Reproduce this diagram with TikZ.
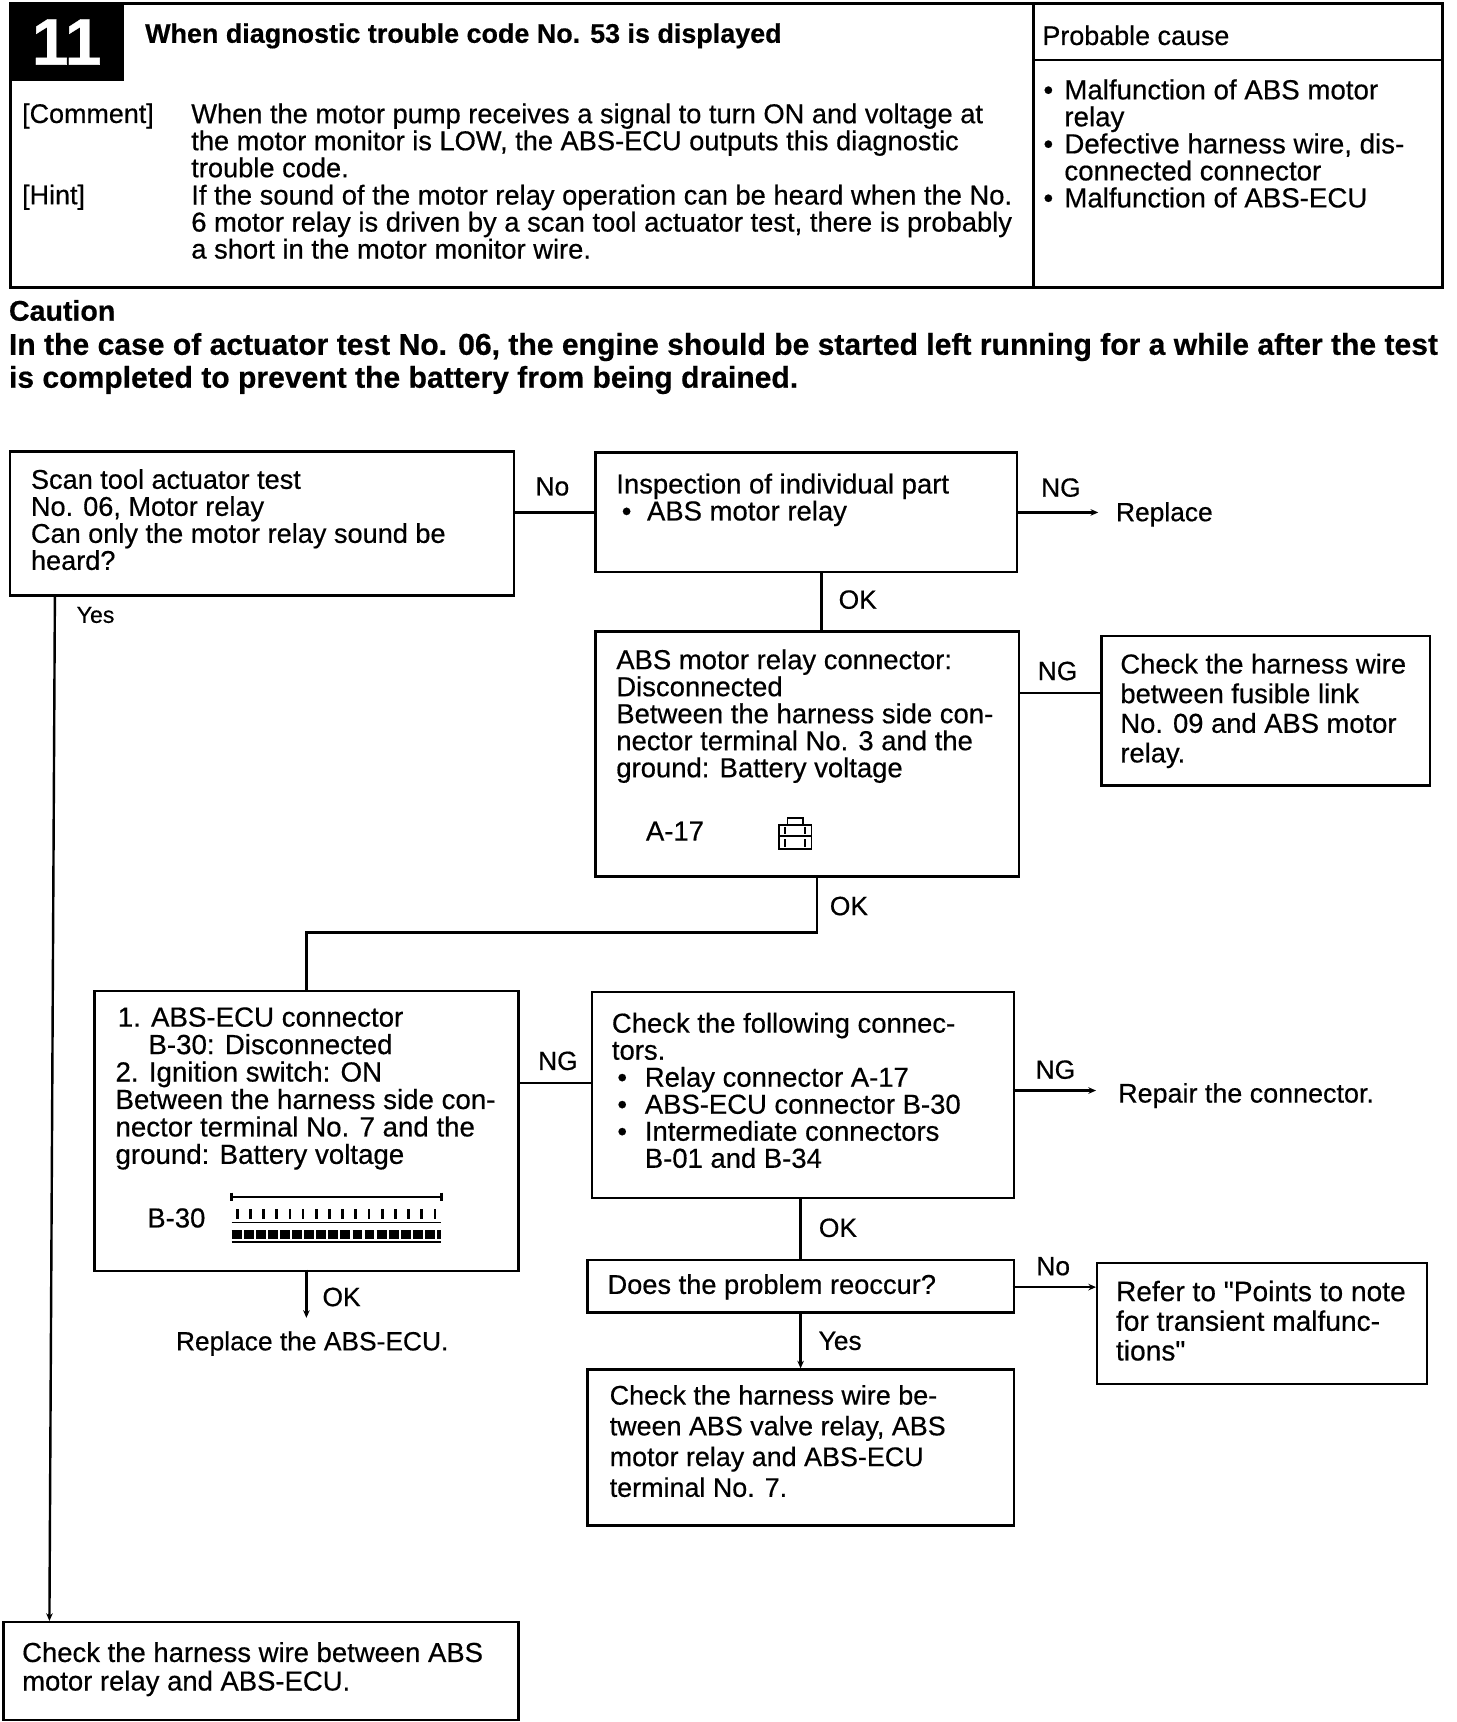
\documentclass[tikz,border=0pt]{standalone}
\usepackage{fontspec}
\setmainfont[FakeBold=0.5]{Liberation Sans}
\newfontfamily\plainf[FakeBold=0.5]{Liberation Sans}
\usetikzlibrary{arrows.meta,calc}
\newcommand{\fs}[2]{\fontsize{#1}{#2}\selectfont}
\tikzset{
  x=1pt,y=-1pt,
  boxn/.style={draw=black,line width=2.2pt,fill=white,inner sep=0pt,anchor=north west},
  txt/.style={anchor=north west,inner sep=0pt,align=left,font=\fs{25}{24.6}},
  lab/.style={inner sep=0pt,font=\fs{24}{24}},
  conn/.style={draw=black,line width=2.2pt},
  tipped/.style={conn,-{Stealth[length=7pt,width=6pt]}},
}
\newcommand{\flowbox}[5]{\node[boxn,minimum width={#4-#2},minimum height={#5-#3}] (#1) at (#2,#3) {};}
\newcommand{\bul}[1]{\makebox[#1pt][l]{•}}
\begin{document}
\begin{tikzpicture}
\useasboundingbox (0,0) rectangle (1326,1568);
% header
\node[draw=black,line width=3pt,anchor=north west,inner sep=0pt,minimum width=1304pt,minimum height=258pt] (head) at (8,2) {};
\node[fill=black,anchor=north west,inner sep=0pt,minimum width=105pt,minimum height=72pt,text=white,font=\bfseries\fs{60}{60}] (num) at (8,2) {11};
\coordinate (divt) at (941,2);
\coordinate (divb) at (941,260);
\draw[line width=2pt] (divt) -- (divb);
\coordinate (divm) at (941,55);
\draw[line width=2pt] (divm) -- (divm -| head.east);
\node[txt,font=\bfseries\fs{24.5}{24}] (title) at (132,21) {When diagnostic trouble code No. 53 is displayed};
\node[txt,font=\fs{24.5}{24}] (pc) at (949,23) {Probable cause};
\node[txt,font=\fs{25.2}{24.6}] (causes) at (950,72) {\bul{19}Malfunction of ABS motor\\\hspace*{19pt}relay\\\bul{19}Defective harness wire, dis-\\\hspace*{19pt}connected connector\\\bul{19}Malfunction of ABS-ECU};
\node[txt,font=\fs{24.5}{24.6}] (comh) at (20,94) {[Comment]};
\node[txt,font=\fs{24.8}{24.6}] (com) at (174,94) {When the motor pump receives a signal to turn ON and voltage at\\the motor monitor is LOW, the ABS-ECU outputs this diagnostic\\trouble code.};
\node[txt,font=\fs{24.5}{24.6}] (hinth) at (20,168) {[Hint]};
\node[txt,font=\fs{24.9}{24.6}] (hint) at (174,168) {If the sound of the motor relay operation can be heard when the No.\\6 motor relay is driven by a scan tool actuator test, there is probably\\a short in the motor monitor wire.};
\node[txt,font=\bfseries\fs{26}{26}] (caut) at (8,273) {Caution};
\node[txt,font=\bfseries\fs{27.4}{30}] (cautt) at (8,303) {In the case of actuator test No. 06, the engine should be started left running for a while after the test\\is completed to prevent the battery from being drained.};
% boxes
\flowbox{scan}{8}{410}{467}{541}
\flowbox{insp}{541}{411}{925}{520}
\flowbox{relay}{541}{574}{927}{797}
\flowbox{harna}{1002}{578}{1301}{714}
\flowbox{ecu}{85}{901}{471}{1156}
\flowbox{chk}{538}{902}{922}{1090}
\flowbox{prob}{534}{1146}{922}{1194}
\flowbox{harnb}{534}{1246}{922}{1388}
\flowbox{refer}{998}{1149}{1298}{1259}
\flowbox{final}{2}{1476}{471}{1565}
% box texts
\node[txt,font=\fs{24.7}{24.6}] (scant) at (28,427) {Scan tool actuator test\\No. 06, Motor relay\\Can only the motor relay sound be\\heard?};
\node[txt] (inspt) at (561,431) {Inspection of individual part\\\hspace*{5pt}\bul{23}ABS motor relay};
\node[txt] (relayt) at (561,591) {ABS motor relay connector:\\Disconnected\\Between the harness side con-\\nector terminal No. 3 and the\\ground: Battery voltage};
\node[txt] (aseven) at (588,748) {A-17};
\node[txt,font=\fs{24.9}{27}] (harnat) at (1020,595) {Check the harness wire\\between fusible link\\No. 09 and ABS motor\\relay.};
\node[txt,font=\fs{25.2}{25}] (ecut) at (105,917) {\hspace*{2pt}1. ABS-ECU connector\\\hspace*{30pt}B-30: Disconnected\\2. Ignition switch: ON\\Between the harness side con-\\nector terminal No. 7 and the\\ground: Battery voltage};
\node[txt] (bthirty) at (134,1100) {B-30};
\node[txt] (chkt) at (557,922) {Check the following connec-\\tors.\\\hspace*{5pt}\bul{25}Relay connector A-17\\\hspace*{5pt}\bul{25}ABS-ECU connector B-30\\\hspace*{5pt}\bul{25}Intermediate connectors\\\hspace*{30pt}B-01 and B-34};
\node[txt,font=\fs{24.8}{24.6}] (probt) at (553,1160) {Does the problem reoccur?};
\node[txt,font=\fs{24.5}{28}] (harnbt) at (555,1261) {Check the harness wire be-\\tween ABS valve relay, ABS\\motor relay and ABS-ECU\\terminal No. 7.};
\node[txt,font=\fs{25.6}{27}] (refert) at (1016,1166) {Refer to {\plainf"}Points to note\\for transient malfunc-\\tions{\plainf"}};
\node[txt,font=\fs{25}{26}] (finalt) at (20,1495) {Check the harness wire between ABS\\motor relay and ABS-ECU.};
% free texts
\node[txt,font=\fs{24}{24}] (replace) at (1016,457) {Replace};
\node[txt,font=\fs{24.5}{24}] (repair) at (1018,986) {Repair the connector.};
\node[txt,font=\fs{24}{24}] (replecu) at (160,1212) {Replace the ABS-ECU.};
% connectors
\draw[conn] (scan.east |- insp.west) -- (insp.west);
\draw[tipped] (insp.east) -- (insp.east -| 1000,0);
\draw[conn] (748,520) coordinate (ia) -- (748,574) coordinate (ib);
\draw[conn] (relay.east |- 0,631) -- (harna.west |- 0,631);
\coordinate (ra) at (744,797);
\coordinate (rb) at (744,849);
\coordinate (rc) at (279,849);
\coordinate (rd) at (279,901);
\draw[conn] (ra) -- (rb) -- (rc) -- (rd);
\draw[conn] (ecu.east |- 0,986) -- (chk.west |- 0,986);
\coordinate (chkr) at (922,993);
\coordinate (repl) at (998,993);
\draw[tipped] (chkr) -- (repl);
\draw[conn] (729,1090) coordinate (ca) -- (729,1146) coordinate (cb);
\coordinate (pra) at (922,1172);
\coordinate (prb) at (998,1172);
\draw[tipped] (pra) -- (prb);
\coordinate (pda) at (729,1194);
\coordinate (pdb) at (729,1246);
\draw[tipped] (pda) -- (pdb);
\coordinate (ea) at (279,1156);
\coordinate (eb) at (279,1200);
\draw[tipped] (ea) -- (eb);
\coordinate (sa) at (50,541);
\coordinate (sb) at (45,1476);
\draw[tipped] (sa) -- (sb);
% labels
\node[lab] (l1) at (503,443) {No};
\node[lab] (l2) at (966,444) {NG};
\node[lab] (l3) at (781,546) {OK};
\node[lab] (l4) at (963,611) {NG};
\node[lab] (l5) at (773,825) {OK};
\node[lab,font=\fs{21}{21}] (l6) at (87,560) {Yes};
\node[lab] (l7) at (508,966) {NG};
\node[lab] (l8) at (961,974) {NG};
\node[lab] (l9) at (763,1118) {OK};
\node[lab] (l10) at (959,1153) {No};
\node[lab] (l11) at (311,1181) {OK};
\node[lab] (l12) at (765,1221) {Yes};
% connector icon A-17
\draw[line width=1.6pt] (709,751) -- (739,751) -- (739,773) -- (709,773) -- cycle;
\draw[line width=1.6pt] (717,751) -- (717,745) -- (731,745) -- (731,751);
\draw[line width=2pt] (709,761) -- (739,761);
\foreach \i in {715,733}{\draw[line width=2pt] (\i,753) -- (\i,759); \draw[line width=2pt] (\i,764) -- (\i,771);}
% connector icon B-30
\draw[line width=2pt] (211,1090) -- (402,1090);
\draw[line width=2.4pt] (211,1086) -- (211,1094);
\draw[line width=2.4pt] (402,1086) -- (402,1094);
\draw[line width=1.5pt] (211,1113) -- (402,1113);
\foreach \i in {0,...,15}{\draw[line width=2.5pt] ({216+\i*12},1101) -- ({216+\i*12},1110);}
\draw[line width=8pt,dash pattern=on 9pt off 2pt] (211,1124) -- (402,1124);
\draw[line width=2pt] (211,1131) -- (402,1131);
\end{tikzpicture}
\end{document}
